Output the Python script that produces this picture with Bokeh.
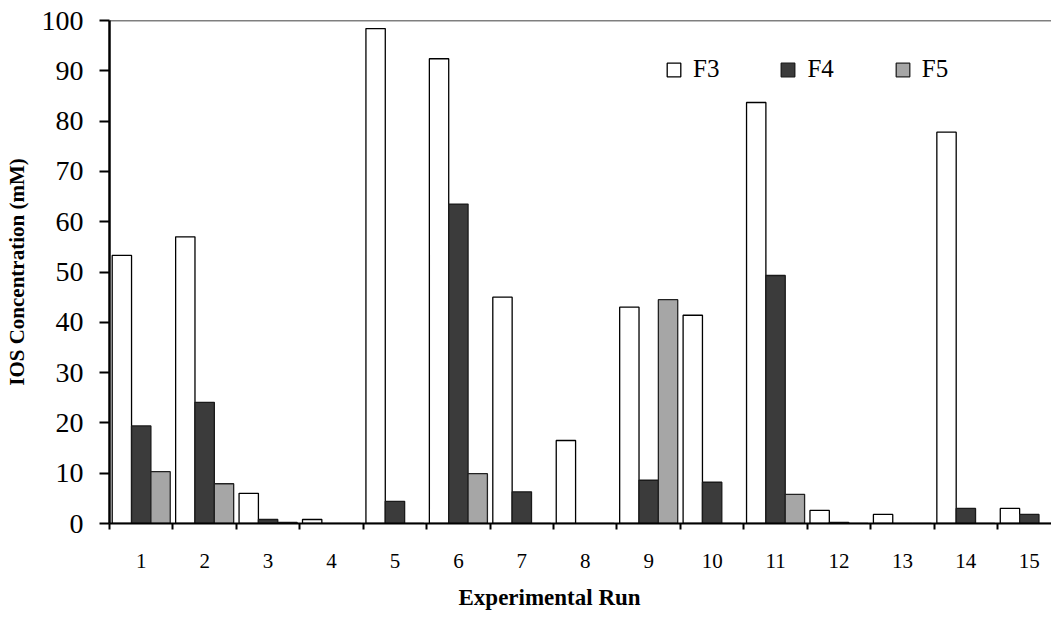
from bokeh.plotting import figure
from bokeh.models import ColumnDataSource, Range1d, FixedTicker, Span, Legend, LegendItem, Title
from bokeh.transform import dodge
from bokeh.embed import file_html
from bokeh.resources import INLINE

runs = list(range(1, 16))
run_labels = [str(r) for r in runs]
f3 = [53.3, 57.0, 6.0, 0.8, 98.4, 92.4, 45.0, 16.5, 43.0, 41.4, 83.7, 2.6, 1.8, 77.8, 3.0]
f4 = [19.4, 24.1, 0.8, 0.0, 4.4, 63.5, 6.3, 0.0, 8.6, 8.2, 49.3, 0.2, 0.0, 3.0, 1.8]
f5 = [10.3, 7.9, 0.2, 0.0, 0.0, 9.9, 0.0, 0.0, 44.5, 0.0, 5.8, 0.0, 0.0, 0.0, 0.0]
y_ticks = [0, 10, 20, 30, 40, 50, 60, 70, 80, 90, 100]
x_title = "Experimental Run"
y_title = "IOS Concentration (mM)"

src = ColumnDataSource(dict(run=runs, f3=f3, f4=f4, f5=f5))

FONT = "Liberation Serif"

p = figure(width=1051, height=622, output_backend="svg", toolbar_location=None,
           x_range=Range1d(0.5, 15.35), y_range=Range1d(0, 100),
           min_border_left=109, min_border_top=20, min_border_bottom=98, min_border_right=0)
p.background_fill_color = "white"
p.border_fill_color = "white"
p.outline_line_color = None
p.grid.visible = False

w = 0.305
r3 = p.vbar(x=dodge("run", -0.305, range=p.x_range), top="f3", width=w, source=src,
            fill_color="white", line_color="black", line_width=1.3)
r4 = p.vbar(x=dodge("run", 0.0, range=p.x_range), top="f4", width=w, source=src,
            fill_color="#3b3b3b", line_color="#1a1a1a", line_width=1.3)
r5 = p.vbar(x=dodge("run", 0.305, range=p.x_range), top="f5", width=w, source=src,
            fill_color="#a6a6a6", line_color="#222222", line_width=1.3)

p.add_layout(Span(location=100, dimension="width", line_color="black", line_width=1.5))

# x axis
xa = p.xaxis[0]
xa.ticker = FixedTicker(ticks=runs, minor_ticks=[r + 0.5 for r in [0] + runs])
xa.major_label_overrides = {r: s for r, s in zip(runs, run_labels)}
xa.major_tick_out = 0
xa.major_tick_in = 0
xa.minor_tick_out = 6
xa.minor_tick_in = 0
xa.minor_tick_line_width = 2
xa.minor_tick_line_color = "black"
xa.axis_line_width = 2
xa.axis_line_color = "black"
xa.major_label_text_font = FONT
xa.major_label_text_font_size = "21px"
xa.major_label_text_color = "black"
xa.major_label_standoff = 24

# x-axis title, placed under the runs (not centred on the clipped frame)
p.add_layout(Title(text=x_title, align="left", offset=349, standoff=25,
                   text_font=FONT, text_font_style="bold", text_font_size="23px",
                   text_color="black"), "below")

# y axis
ya = p.yaxis[0]
ya.ticker = FixedTicker(ticks=y_ticks)
ya.minor_tick_line_color = None
ya.major_tick_out = 10
ya.major_tick_in = 0
ya.major_tick_line_width = 2
ya.axis_line_width = 2.5
ya.axis_line_color = "black"
ya.major_label_text_font = FONT
ya.major_label_text_font_size = "28px"
ya.major_label_text_color = "black"
ya.major_label_standoff = 16
ya.axis_label = y_title
ya.axis_label_text_font = FONT
ya.axis_label_text_font_style = "bold"
ya.axis_label_text_font_size = "21px"
ya.axis_label_text_color = "black"
ya.axis_label_standoff = 10

legend = Legend(items=[LegendItem(label="F3", renderers=[r3]),
                       LegendItem(label="F4", renderers=[r4]),
                       LegendItem(label="F5", renderers=[r5])],
                orientation="horizontal", location=(556, 440),
                glyph_width=17, glyph_height=17, label_standoff=11, spacing=60,
                padding=0, margin=0, border_line_color=None,
                background_fill_alpha=0,
                label_text_font=FONT, label_text_font_size="25px", label_text_color="black")
p.add_layout(legend, "center")

open("out.html", "w").write(file_html(p, INLINE))
